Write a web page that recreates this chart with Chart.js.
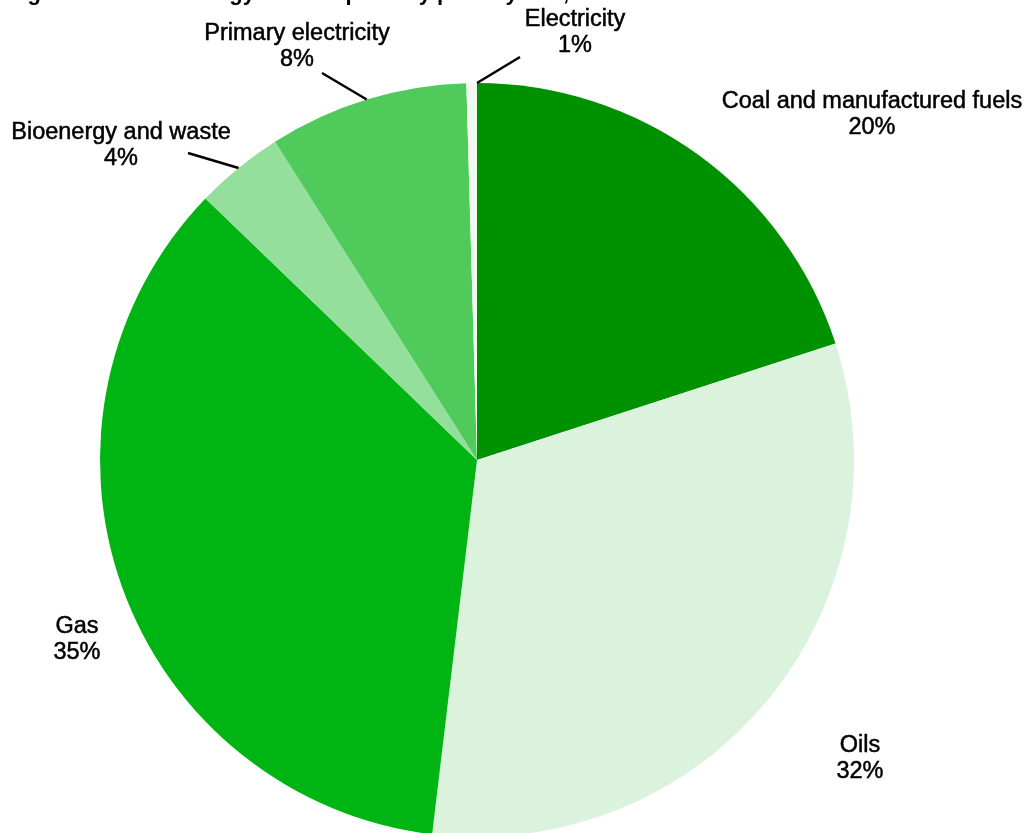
<!DOCTYPE html>
<html>
<head>
<meta charset="utf-8">
<script src="https://cdn.jsdelivr.net/npm/chart.js@4"></script>
<style>
    html, body { margin: 0; padding: 0; background: #ffffff; overflow: hidden; }
    #wrap { width: 1027px; height: 845px; position: relative; }
</style>
</head>
<body>
<div id="wrap"><canvas id="fuelChart"></canvas></div>
<script>
const fuelLabels = ['Coal and manufactured fuels', 'Oils', 'Gas', 'Bioenergy and waste', 'Primary electricity', 'Electricity'];
const fuelShares = [20.0, 31.9, 35.3, 3.8, 8.55, 0.45];
const shareLabels = ['20%', '32%', '35%', '4%', '8%', '1%'];
const sliceColours = ['#009100', '#dbf3dd', '#00b414', '#94df9b', '#4fca5b', '#f0f8f0'];
const titleText = 'Figure 1.4: Final energy consumption by primary fuel, 2019';

// where each label sits; leader lines run from (x, y) to a point on the slice edge
// (at: 0 = slice start, 0.5 = middle, 1 = slice end)
const labelPlaces = [
    { x: 872, y: 102, line: null },
    { x: 860, y: 746, line: null },
    { x: 77, y: 627, line: null },
    { x: 121, y: 133, line: { x: 188, y: 153, at: 0.5 } },
    { x: 297, y: 34, line: { x: 322, y: 73, at: 0.5 } },
    { x: 575, y: 20, line: { x: 520, y: 57, at: 1.0 } }
];

const labelPlugin = {
    id: 'fuelLabels',
    afterDatasetsDraw(chart) {
        const ctx = chart.ctx;
        const arcs = chart.getDatasetMeta(0).data;
        ctx.save();
        ctx.fillStyle = '#000000';
        ctx.font = 'bold 22px "Liberation Sans", Arial, sans-serif';
        ctx.textAlign = 'left';
        ctx.textBaseline = 'alphabetic';
        ctx.fillText(titleText, 8, 0);

        ctx.font = '23.5px "Liberation Sans", Arial, sans-serif';
        ctx.textAlign = 'center';
        ctx.textBaseline = 'middle';
        ctx.strokeStyle = '#000000';
        arcs.forEach((arc, i) => {
            const place = labelPlaces[i];
            ctx.lineWidth = 0.5;
            ctx.fillText(fuelLabels[i], place.x, place.y);
            ctx.strokeText(fuelLabels[i], place.x, place.y);
            ctx.fillText(shareLabels[i], place.x, place.y + 26);
            ctx.strokeText(shareLabels[i], place.x, place.y + 26);
            if (place.line) {
                const ang = arc.startAngle + (arc.endAngle - arc.startAngle) * place.line.at;
                const ex = arc.x + Math.cos(ang) * arc.outerRadius;
                const ey = arc.y + Math.sin(ang) * arc.outerRadius;
                ctx.beginPath();
                ctx.moveTo(place.line.x, place.line.y);
                ctx.lineTo(ex, ey);
                ctx.lineWidth = 2.5;
                ctx.stroke();
            }
        });
        ctx.restore();
    }
};

new Chart(document.getElementById('fuelChart').getContext('2d'), {
    type: 'pie',
    data: {
        labels: fuelLabels,
        datasets: [{
            data: fuelShares,
            backgroundColor: sliceColours,
            borderWidth: 0
        }]
    },
    options: {
        responsive: true,
        maintainAspectRatio: false,
        animation: false,
        layout: {
            padding: { left: 100, right: 173, top: 83, bottom: 8 }
        },
        plugins: {
            legend: { display: false },
            tooltip: { enabled: false }
        }
    },
    plugins: [labelPlugin]
});
</script>
</body>
</html>
